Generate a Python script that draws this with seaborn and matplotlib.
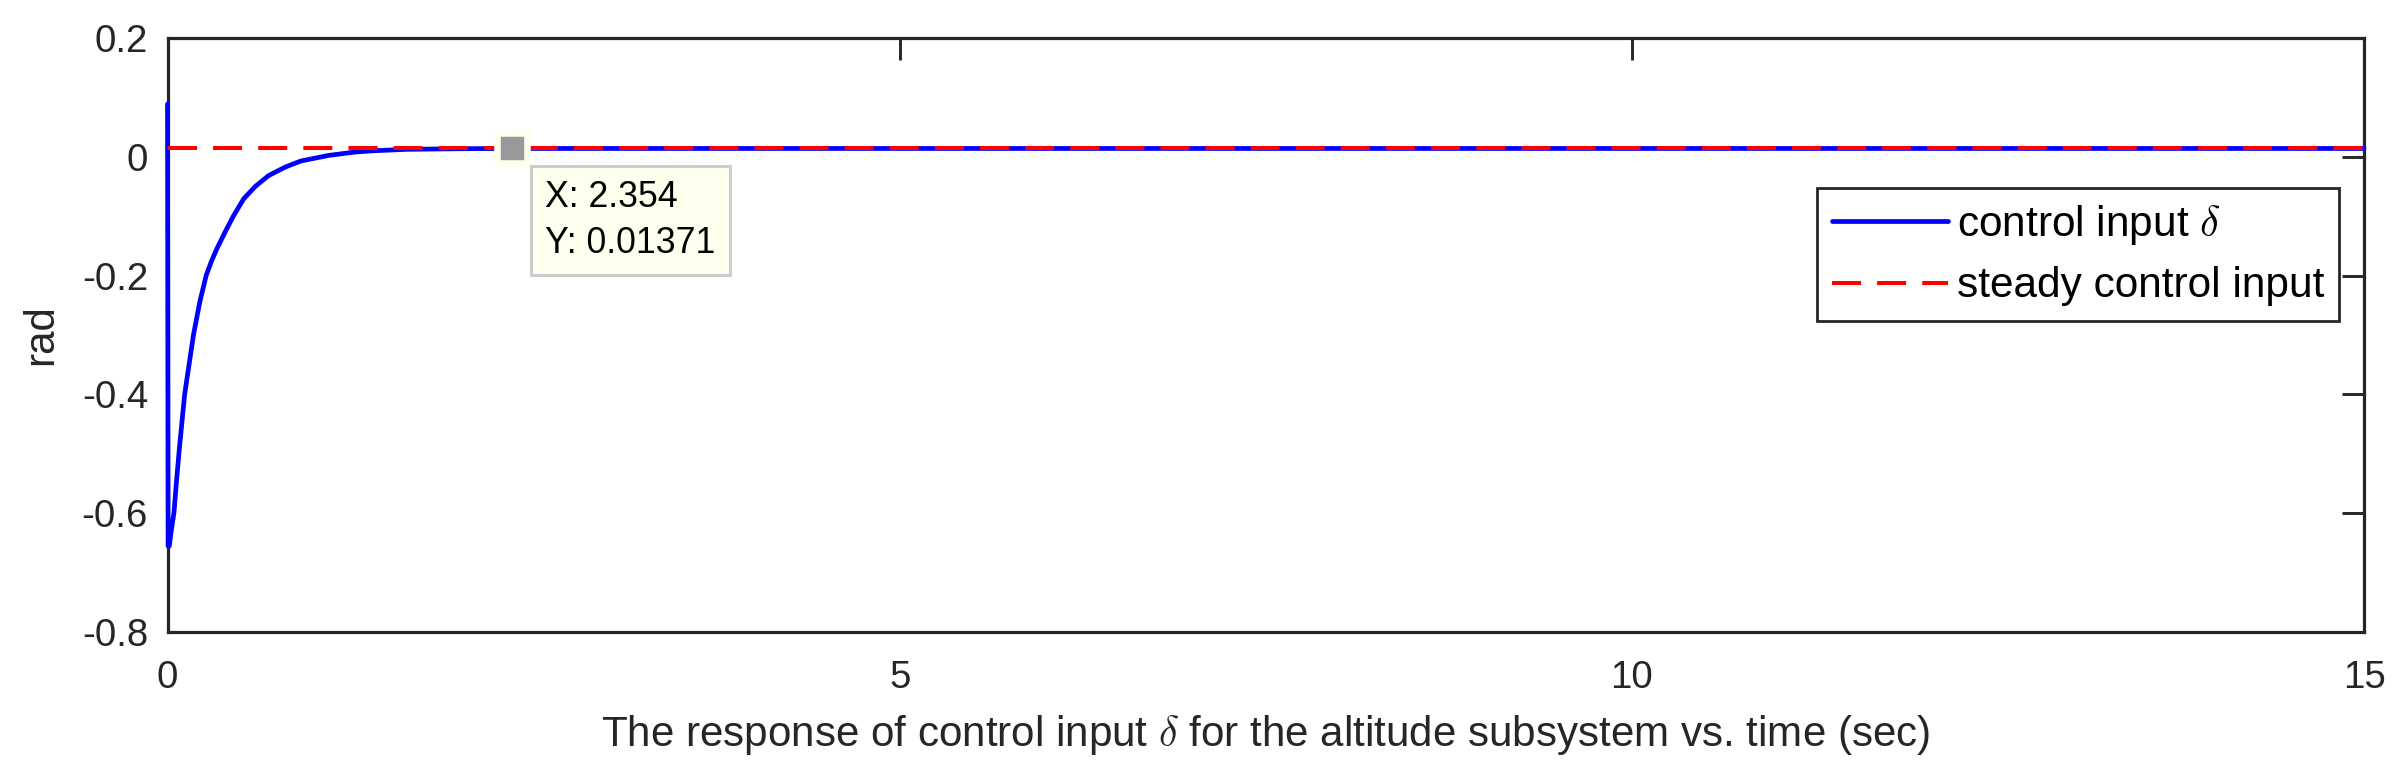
import matplotlib
matplotlib.use("Agg")
import matplotlib.pyplot as plt
import seaborn as sns
import pandas as pd

# control input delta (time in sec, value in rad)
time_s = [0.0, 0.004, 0.012, 0.025, 0.044, 0.06, 0.081, 0.117, 0.15, 0.178,
          0.22, 0.264, 0.30, 0.337, 0.397, 0.45, 0.52, 0.6, 0.69, 0.8,
          0.91, 1.10, 1.276, 1.4, 1.64, 2.0, 2.354, 3.0, 15.0]
delta_rad = [0.0885, -0.655, -0.655, -0.63, -0.599, -0.55, -0.491, -0.400, -0.345, -0.299,
             -0.245, -0.200, -0.176, -0.155, -0.125, -0.100, -0.071, -0.050, -0.032, -0.018,
             -0.0074, 0.002, 0.0076, 0.0098, 0.0123, 0.0133, 0.01371, 0.01371, 0.01371]

steady_t = [0.0, 15.0]
steady_val = [0.01371, 0.01371]

tip_x = 2.354
tip_y = 0.01371

xticks = [0, 5, 10, 15]
yticks = [-0.8, -0.6, -0.4, -0.2, 0, 0.2]
ytick_labels = ['-0.8', '-0.6', '-0.4', '-0.2', '0', '0.2']

sns.set_theme(style='white')
plt.rcParams['font.family'] = ['Liberation Sans', 'DejaVu Sans']
plt.rcParams['mathtext.fontset'] = 'cm'

ink = '#262626'

fig = plt.figure(figsize=(24.05, 7.73), dpi=100)
ax = fig.add_axes([0.06965, 0.18202, 0.91331, 0.76921])

df = pd.DataFrame({'t': time_s, 'delta': delta_rad})
sns.lineplot(data=df, x='t', y='delta', ax=ax, color='#0000ff', lw=3.4,
             estimator=None, sort=False, label=r'control input $\delta$')
sns.lineplot(x=steady_t, y=steady_val, ax=ax, color='#ff0000', lw=2.9,
             dashes=False, label='steady control input')
ax.lines[1].set_dashes((7.2, 4.0))
for ln in ax.lines[:2]:
    ln.set_zorder(3)
    ln.set_clip_on(False)

ax.set_xlim(0, 15)
ax.set_ylim(-0.8, 0.2)
ax.set_xticks(xticks)
ax.set_xticklabels([str(v) for v in xticks])
ax.set_yticks(yticks)
ax.set_yticklabels(ytick_labels)

for s in ax.spines.values():
    s.set_color(ink)
    s.set_linewidth(2.3)
ax.tick_params(direction='in', length=15.8, width=2.1, colors=ink,
               labelsize=27.7, top=True, right=True, pad=14)
ax.tick_params(axis='x', pad=20)

ax.set_xlabel(r'The response of control input $\delta$ for the altitude subsystem vs. time (sec)',
              fontsize=30.3, color=ink)
ax.set_ylabel('rad', fontsize=30.3, color=ink)
ax.xaxis.set_label_coords(0.5, -0.172)
ax.xaxis.label.set_va('center')
ax.yaxis.set_label_coords(-0.0576, 0.5)
ax.yaxis.label.set_va('center')

# data tip
ax.plot([tip_x], [tip_y], marker='s', ms=22, mfc='#999999', mec='#ffffee', mew=4.7,
        ls='none', zorder=5)
ax.annotate(f'X: {tip_x}\nY: {tip_y}', xy=(tip_x, tip_y), xytext=(33, -32),
            textcoords='offset pixels', ha='left', va='top', fontsize=25.7,
            linespacing=1.38, color='black', zorder=6,
            bbox=dict(boxstyle='square,pad=0.4', fc='#ffffee', ec='#cccccc', lw=2.2))

leg = ax.legend(loc='upper right', bbox_to_anchor=(0.9886, 0.7464), borderaxespad=0,
                fontsize=30.5, handlelength=2.75, handletextpad=0.2, labelspacing=0.45,
                borderpad=0.35, frameon=True, fancybox=False)
leg.get_frame().set_edgecolor(ink)
leg.get_frame().set_linewidth(2.0)
leg.get_frame().set_alpha(1)
for txt in leg.get_texts():
    txt.set_color('black')

fig.savefig('out.png', dpi=100)
